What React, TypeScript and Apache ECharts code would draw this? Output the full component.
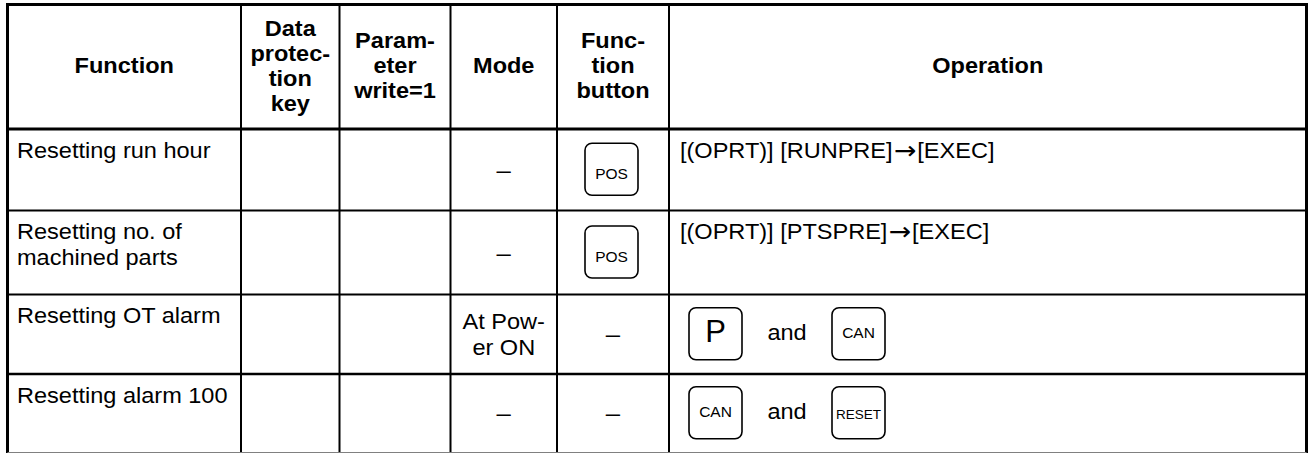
import React, { useEffect, useRef } from "react";
import * as echarts from "echarts";

// ---- table content ----
const headers = [
  "Function",
  "Data\nprotec-\ntion\nkey",
  "Param-\neter\nwrite=1",
  "Mode",
  "Func-\ntion\nbutton",
  "Operation",
];
const functions = [
  "Resetting run hour",
  "Resetting no. of\nmachined parts",
  "Resetting OT alarm",
  "Resetting alarm 100",
];
const dataProtectionKey = ["", "", "", ""];
const parameterWrite = ["", "", "", ""];
const modes = ["–", "–", "At Pow-\ner ON", "–"];
const functionButtons = ["POS", "POS", "–", "–"];
const operations = [
  "[(OPRT)] [RUNPRE]→[EXEC]",
  "[(OPRT)] [PTSPRE]→[EXEC]",
  "",
  "",
];
const keyCombos: string[][] = [[], [], ["P", "CAN"], ["CAN", "RESET"]];
const comboJoiner = "and";

// ---- layout (positions / styles) ----
const W = 1308;
const H = 453;
const colX = [7.5, 241, 339.5, 450.5, 557, 669, 1306.5];
const rowY = [4.5, 129, 210.5, 294.5, 374, 452.5];
const FF = "'Liberation Sans', Arial, Helvetica, sans-serif";
const FS = 22;
const SX = 1.07;
const HEAD_LH = 25;
const BODY_LH = 26;
const KEY_W = 53;
const KEY_H = 52;

const keyFont: Record<string, { size: number; dy: number }> = {
  P: { size: 31, dy: -2 },
  CAN: { size: 15.5, dy: -1 },
  POS: { size: 15.5, dy: 4 },
  RESET: { size: 13.5, dy: 1.5 },
};

function text(
  x: number,
  y: number,
  t: string,
  o: { size?: number; weight?: string; align?: string; va?: string; lh?: number; sx?: number; rich?: any } = {}
) {
  const size = o.size ?? FS;
  const style: any = {
    text: t,
    fill: "#000",
    fontFamily: FF,
    fontSize: size,
    fontWeight: o.weight ?? "normal",
    align: o.align ?? "left",
    verticalAlign: o.va ?? "middle",
    lineHeight: o.lh ?? size,
  };
  if (o.rich) style.rich = o.rich;
  return { type: "text", x, y, scaleX: o.sx ?? SX, silent: true, style };
}

function line(x1: number, y1: number, x2: number, y2: number, w: number, c = "#000") {
  return {
    type: "line",
    silent: true,
    shape: { x1, y1, x2, y2 },
    style: { stroke: c, lineWidth: w },
  };
}

function key(cx: number, cy: number, label: string) {
  const f = keyFont[label] ?? { size: 15, dy: 0 };
  return [
    {
      type: "rect",
      silent: true,
      shape: { x: cx - KEY_W / 2, y: cy - KEY_H / 2, width: KEY_W, height: KEY_H, r: 7 },
      style: { fill: "#fff", stroke: "#000", lineWidth: 1.6 },
    },
    text(cx, cy + f.dy, label, { size: f.size, align: "center", va: "middle", sx: 1 }),
  ];
}

function buildElements() {
  const els: any[] = [];
  els.push({
    type: "rect",
    silent: true,
    shape: { x: 0, y: 0, width: W, height: H },
    style: { fill: "#fff" },
  });

  // header
  const headMid = (rowY[0] + rowY[1]) / 2 - 1;
  headers.forEach((h, i) => {
    const cx = (colX[i] + colX[i + 1]) / 2;
    els.push(text(cx, headMid, h, { weight: "bold", align: "center", va: "middle", lh: HEAD_LH }));
  });

  // body
  const capOffset = 0.37 * FS;
  for (let r = 0; r < functions.length; r++) {
    const top = rowY[r + 1];
    const bot = rowY[r + 2];
    const mid = (top + bot) / 2;
    const firstLineMid = top + 13 + capOffset;
    const cells = [functions[r], dataProtectionKey[r], parameterWrite[r]];
    cells.forEach((c, ci) => {
      if (!c) return;
      els.push(text(colX[ci] + 9.5, firstLineMid - BODY_LH / 2, c, { va: "top", lh: BODY_LH }));
    });
    // mode
    const modeCx = (colX[3] + colX[4]) / 2;
    const m = modes[r];
    els.push(
      text(modeCx, mid, m, { align: "center", va: "middle", lh: BODY_LH, size: m === "–" ? 24 : FS })
    );
    // function button
    const fbCx = (colX[4] + colX[5]) / 2 - 1.5;
    const fb = functionButtons[r];
    if (fb === "–") {
      els.push(text(fbCx + 1.5, mid, fb, { align: "center", va: "middle", size: 24 }));
    } else if (fb) {
      els.push(...key(fbCx, mid - 0.5, fb));
    }
    // operation
    if (operations[r]) {
      const op = operations[r].replace("→", "{arr|→}");
      els.push(
        text(colX[5] + 11, firstLineMid - BODY_LH / 2, op, {
          va: "top",
          lh: BODY_LH,
          rich: {
            arr: {
              fontFamily: "'DejaVu Sans', sans-serif",
              fontSize: 25,
              fontWeight: "normal",
              fill: "#000",
              lineHeight: BODY_LH,
              padding: [0, 1, 0, 1],
            },
          },
        })
      );
    }
    const combo = keyCombos[r];
    if (combo.length === 2) {
      const k1 = colX[5] + 46.5;
      const k2 = colX[5] + 189.5;
      els.push(...key(k1, mid - 0.5, combo[0]));
      els.push(text((k1 + k2) / 2, mid - 2, comboJoiner, { align: "center", va: "middle" }));
      els.push(...key(k2, mid - 0.5, combo[1]));
    }
  }

  // grid lines
  for (let i = 1; i < colX.length - 1; i++) {
    els.push(line(colX[i], rowY[0], colX[i], H, 2));
  }
  els.push(line(colX[0], rowY[1], colX[6], rowY[1], 3));
  els.push(line(colX[0], rowY[2], colX[6], rowY[2], 2));
  els.push(line(colX[0], rowY[3], colX[6], rowY[3], 2));
  els.push(line(colX[0], rowY[4], colX[6], rowY[4], 2.5));
  // outer border
  els.push(line(colX[0] - 1.5, rowY[0], colX[6] + 1.5, rowY[0], 3));
  els.push(line(colX[0], rowY[0], colX[0], H, 3));
  els.push(line(colX[6], rowY[0], colX[6], H, 3));
  els.push(line(colX[0], rowY[5], colX[6], rowY[5], 1, "#808080"));
  return els;
}

export default function App() {
  const ref = useRef<HTMLDivElement>(null);
  useEffect(() => {
    document.body.style.margin = "0";
    const chart = echarts.init(ref.current!, null, { renderer: "svg", width: W, height: H });
    chart.setOption({
      animation: false,
      backgroundColor: "#fff",
      graphic: { elements: buildElements() },
    });
    return () => chart.dispose();
  }, []);
  return <div ref={ref} style={{ width: W, height: H }} />;
}
